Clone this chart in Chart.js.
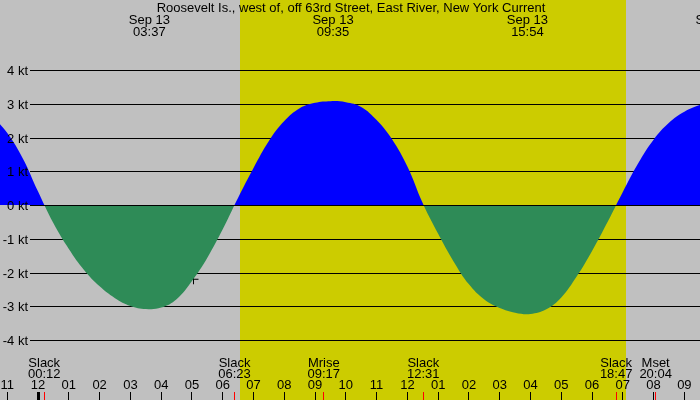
<!DOCTYPE html>
<html>
<head>
<meta charset="utf-8">
<script src="https://cdn.jsdelivr.net/npm/chart.js@4/dist/chart.umd.min.js"></script>
<style>
html,body{margin:0;padding:0;background:#c0c0c0;overflow:hidden;}
#c{display:block;}
</style>
</head>
<body>
<canvas id="c" width="700" height="400"></canvas>
<script>
// ---- data ----
const chartTitle = "Roosevelt Is., west of, off 63rd Street, East River, New York Current";
const dateLabel = "Sep 13";
// current speed (knots, + flood / - ebb) every half hour, hours after midnight Sep 13
const flowHours = [-1.5, -1.0, -0.5, 0.0, 0.5, 1.0, 1.5, 2.0, 2.5, 3.0, 3.5, 4.0, 4.5, 5.0, 5.5, 6.0,
                   6.5, 7.0, 7.5, 8.0, 8.5, 9.0, 9.5, 10.0, 10.5, 11.0, 11.5, 12.0,
                   12.5, 13.0, 13.5, 14.0, 14.5, 15.0, 15.5, 16.0, 16.5, 17.0, 17.5, 18.0,
                   18.5, 19.0, 19.5, 20.0, 20.5, 21.0, 21.5, 22.0];
const flowKnots = [2.65, 2.14, 1.39, 0.40, -0.54, -1.30, -1.93, -2.41, -2.76, -2.99, -3.08, -3.04, -2.79, -2.25, -1.56, -0.72,
                   0.22, 1.10, 1.90, 2.49, 2.87, 3.03, 3.08, 3.05, 2.91, 2.52, 1.95, 1.14,
                   0.05, -0.85, -1.67, -2.35, -2.80, -3.05, -3.19, -3.23, -3.10, -2.74, -2.12, -1.36,
                   -0.51, 0.39, 1.24, 1.94, 2.44, 2.77, 2.97, 3.10];
// maximum current times (top labels)
const maxTimes = ["03:37", "09:35", "15:54", "22:02"];
// events along the bottom
const eventNames = ["Slack", "Slack", "Mrise", "Slack", "Slack", "Mset"];
const eventTimes = ["00:12", "06:23", "09:17", "12:31", "18:47", "20:04"];
// daylight
const sunriseTime = "06:34";
const sunsetTime = "19:07";
// axis ticks
const knotTicks = [4, 3, 2, 1, 0, -1, -2, -3, -4];
const hourTicks = [-1,0,1,2,3,4,5,6,7,8,9,10,11,12,13,14,15,16,17,18,19,20,21];
const hourLabels = ["11","12","01","02","03","04","05","06","07","08","09","10","11","12","01","02","03","04","05","06","07","08","09"];
// current-time marker
const nowHour = [5.05];
const nowKnots = [-2.20];

const X_MIN = -1.237, X_MAX = 21.508, Y_MIN = -5.78, Y_MAX = 6.08;
const FONT = '13px "Liberation Sans", Arial, Helvetica, sans-serif';

function toHours(t){ const p = t.split(':'); return (+p[0]) + (+p[1])/60; }

const flowData = flowHours.map((h,i)=>({x:h, y:flowKnots[i]}));
const nowData = nowHour.map((h,i)=>({x:h, y:nowKnots[i]}));

const backPlugin = {
  id:'back',
  beforeDatasetsDraw(chart){
    const {ctx, scales:{x,y}} = chart;
    const W = chart.width, H = chart.height;
    ctx.save();
    ctx.fillStyle = '#c0c0c0';
    ctx.fillRect(0,0,W,H);
    const sr = Math.round(x.getPixelForValue(toHours(sunriseTime)));
    const ss = Math.round(x.getPixelForValue(toHours(sunsetTime)));
    ctx.fillStyle = '#cccc00';
    ctx.fillRect(sr,0,ss-sr,H);
    ctx.strokeStyle = '#000';
    ctx.lineWidth = 1;
    knotTicks.forEach(k=>{
      if(k===0) return;
      const py = Math.round(y.getPixelForValue(k))+0.5;
      ctx.beginPath(); ctx.moveTo(30,py); ctx.lineTo(W,py); ctx.stroke();
    });
    ctx.restore();
  },
  afterDatasetsDraw(chart){
    const {ctx, scales:{x,y}} = chart;
    const W = chart.width, H = chart.height;
    ctx.save();
    ctx.strokeStyle = '#000';
    ctx.lineWidth = 1;
    const p0 = Math.round(y.getPixelForValue(0))+0.5;
    ctx.beginPath(); ctx.moveTo(30,p0); ctx.lineTo(W,p0); ctx.stroke();
    ctx.font = FONT;
    ctx.fillStyle = '#000';
    ctx.textBaseline = 'alphabetic';
    // y labels
    ctx.textAlign = 'right';
    knotTicks.forEach(k=>{
      const py = Math.round(y.getPixelForValue(k));
      ctx.fillText(k + ' kt', 28, py+5);
    });
    // title
    ctx.textAlign = 'center';
    ctx.fillText(chartTitle, 351, 12);
    // max current labels
    maxTimes.forEach(t=>{
      const px = x.getPixelForValue(toHours(t));
      ctx.fillText(dateLabel, px, 24);
      ctx.fillText(t, px, 36);
    });
    // bottom event labels
    eventNames.forEach((n,i)=>{
      const px = x.getPixelForValue(toHours(eventTimes[i]));
      ctx.fillText(n, px, 367);
      ctx.fillText(eventTimes[i], px, 378);
    });
    // hour ticks
    hourTicks.forEach((h,i)=>{
      const px = x.getPixelForValue(h);
      ctx.fillStyle = '#000';
      ctx.fillText(hourLabels[i], px, 389);
      const c = Math.floor(px);
      if(h===0){ ctx.fillRect(c-1,392,3,8); }
      else { ctx.fillRect(c,392,1,8); }
    });
    // red event ticks
    ctx.fillStyle = '#ff0000';
    eventTimes.forEach(t=>{
      const c = Math.floor(x.getPixelForValue(toHours(t)));
      ctx.fillRect(c,392,1,8);
    });
    ctx.restore();
  }
};

new Chart(document.getElementById('c'), {
  type:'line',
  data:{
    datasets:[
      {
        data: flowData,
        borderWidth: 0,
        borderColor: 'rgba(0,0,0,0)',
        pointRadius: 0,
        tension: 0.4,
        fill: {target:'origin', above:'#0000ff', below:'#2e8b57'}
      },
      {
        data: nowData,
        showLine: false,
        pointStyle: 'cross',
        pointRadius: 5,
        pointBorderColor: '#000',
        pointBorderWidth: 1,
        fill: false
      }
    ]
  },
  options:{
    responsive:false,
    devicePixelRatio:1,
    animation:false,
    layout:{padding:0, autoPadding:false},
    plugins:{legend:{display:false}, tooltip:{enabled:false}, title:{display:false}},
    scales:{
      x:{type:'linear', min:X_MIN, max:X_MAX, display:false},
      y:{type:'linear', min:Y_MIN, max:Y_MAX, display:false}
    }
  },
  plugins:[backPlugin]
});
</script>
</body>
</html>
